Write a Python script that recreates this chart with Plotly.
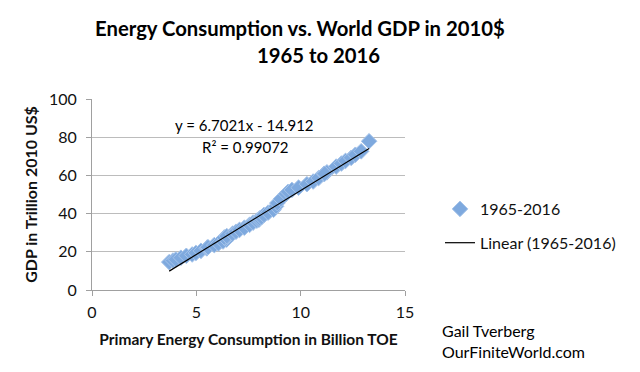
import plotly.graph_objects as go

years = list(range(1965, 2017))
energy_btoe = [3.70, 3.88, 4.02, 4.26, 4.52, 4.80, 4.98, 5.22, 5.50, 5.52,
               5.56, 5.86, 6.06, 6.28, 6.45, 6.40, 6.36, 6.34, 6.46, 6.74,
               6.90, 7.07, 7.30, 7.55, 7.72, 7.90, 8.00, 8.04, 8.12, 8.24,
               8.44, 8.70, 8.82, 8.88, 9.05, 9.30, 9.40, 9.58, 9.90, 10.30,
               10.60, 10.86, 11.12, 11.26, 11.15, 11.70, 11.95, 12.15, 12.42, 12.62,
               12.90, 13.28]
gdp_trillion = [14.6, 15.4, 16.0, 16.9, 17.9, 18.6, 19.4, 20.5, 21.8, 22.2,
                22.4, 23.5, 24.4, 25.4, 26.4, 26.9, 27.4, 27.5, 28.2, 29.5,
                30.5, 31.5, 32.6, 34.1, 35.3, 36.3, 36.8, 37.5, 38.1, 39.3,
                40.5, 42.0, 43.8, 45.5, 47.6, 50.3, 51.4, 52.4, 53.6, 55.4,
                56.8, 58.6, 60.8, 61.6, 60.9, 64.6, 66.2, 67.6, 69.2, 70.8,
                72.6, 77.9]

slope = 6.7021
intercept = -14.912
r_squared = 0.99072

series_name = "1965-2016"
trend_name = "Linear (1965-2016)"
title_line1 = "Energy Consumption vs. World GDP in 2010$"
title_line2 = "1965 to 2016"
x_title = "Primary Energy Consumption in Billion TOE"
y_title = "GDP in Trillion 2010 US$"
credit = "Gail Tverberg<br>OurFiniteWorld.com"

FONT = "Lato, 'Open Sans', sans-serif"

x_min, x_max = min(energy_btoe), max(energy_btoe)
trend_x = [x_min, x_max]
trend_y = [slope * v + intercept for v in trend_x]

# plot area (pixels): left 92, right 405, top 99, bottom 290
L, R, T, B = 92, 405, 99, 290
def py(p):
    return (B - p) / (B - T)
def px(p):
    return (p - L) / (R - L)

fig = go.Figure()
fig.add_trace(go.Scatter(
    x=energy_btoe, y=gdp_trillion, mode="markers", name=series_name,
    marker=dict(symbol="diamond", size=12, color="#7ea9de",
                line=dict(color="#a6c4ea", width=1)),
    legendgroup="a",
))
fig.add_trace(go.Scatter(
    x=trend_x, y=trend_y, mode="lines", name=trend_name,
    line=dict(color="black", width=1.2),
    legendgroup="b",
))

fig.update_layout(
    width=640, height=372,
    paper_bgcolor="white", plot_bgcolor="white",
    margin=dict(l=L, r=640 - R, t=T, b=372 - B),
    font=dict(family=FONT, size=16, color="#111"),
    showlegend=True,
    legend=dict(x=px(440), y=py(226), xanchor="left", yanchor="middle",
                font=dict(size=16, family=FONT), tracegroupgap=10,
                bgcolor="rgba(0,0,0,0)"),
    xaxis=dict(range=[0, 15], tickvals=[0, 5, 10, 15], showgrid=False,
               showline=True, linecolor="#a0a0a0", linewidth=1,
               ticks="outside", ticklen=5, tickcolor="#a0a0a0",
               zeroline=False, tickfont=dict(size=16), ticklabelstandoff=3,
               title=dict(text="<b>" + x_title + "</b>", font=dict(size=15.5), standoff=13)),
    yaxis=dict(range=[0, 100], tickvals=[0, 20, 40, 60, 80, 100],
               showgrid=True, gridcolor="#bcbcbc", gridwidth=1,
               showline=True, linecolor="#a0a0a0", linewidth=1,
               ticks="outside", ticklen=5, tickcolor="#a0a0a0",
               zeroline=False, tickfont=dict(size=16), ticklabelstandoff=6,
               title=dict(text="<b>" + y_title + "</b>", font=dict(size=16), standoff=7)),
    annotations=[
        dict(text="<b>" + title_line1 + "</b>", xref="paper", yref="paper",
             x=px(300), y=py(28), xanchor="center", yanchor="middle", showarrow=False,
             font=dict(size=20.3, family=FONT, color="black")),
        dict(text="<b>" + title_line2 + "</b>", xref="paper", yref="paper",
             x=px(318), y=py(55), xanchor="center", yanchor="middle", showarrow=False,
             font=dict(size=20.3, family=FONT, color="black")),
        dict(text="y = %.4fx - %.3f" % (slope, -intercept),
             xref="paper", yref="paper", x=px(244), y=py(125), xanchor="center", yanchor="middle",
             showarrow=False, font=dict(size=15, family=FONT, color="black")),
        dict(text="R² = %.5f" % r_squared,
             xref="paper", yref="paper", x=px(245), y=py(147), xanchor="center", yanchor="middle",
             showarrow=False, font=dict(size=15, family=FONT, color="black")),
        dict(text=credit, xref="paper", yref="paper",
             x=px(440), y=py(341), xanchor="left", yanchor="middle",
             align="left", showarrow=False,
             font=dict(size=16, family=FONT, color="black")),
    ],
)

fig.write_html("out.html", config={"displayModeBar": False},
               post_script="document.body.style.margin='0';")
